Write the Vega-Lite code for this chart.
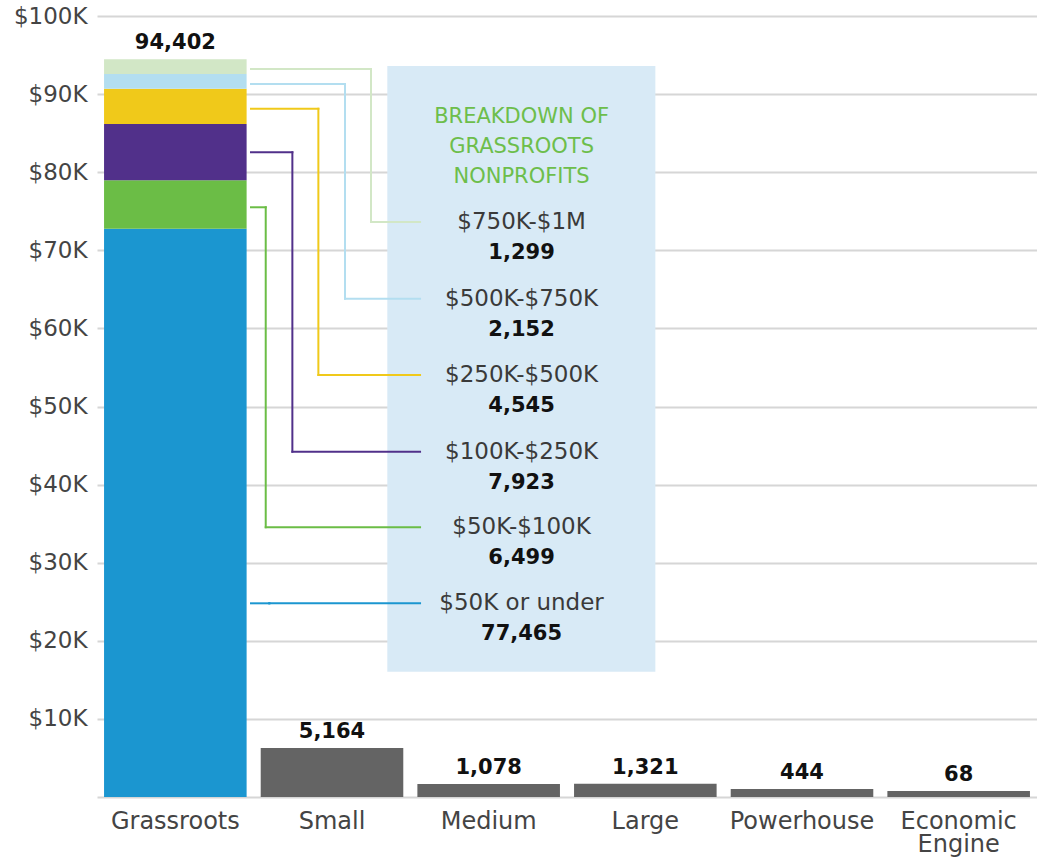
{
  "$schema": "https://vega.github.io/schema/vega-lite/v6.json",
  "width": 940,
  "height": 781,
  "autosize": {"type": "none"},
  "padding": {"left": 97, "top": 16, "right": 0, "bottom": 60},
  "background": "white",
  "config": {
    "view": {"stroke": null},
    "font": "DejaVu Sans",
    "text": {"font": "DejaVu Sans"}
  },
  "datasets": {
    "bars": [
      {"category": "Grassroots", "segment": "$50K or under", "tier": 1, "value": 72770, "total": "94,402"},
      {"category": "Grassroots", "segment": "$50K-$100K", "tier": 2, "value": 6190, "total": "94,402"},
      {"category": "Grassroots", "segment": "$100K-$250K", "tier": 3, "value": 7210, "total": "94,402"},
      {"category": "Grassroots", "segment": "$250K-$500K", "tier": 4, "value": 4520, "total": "94,402"},
      {"category": "Grassroots", "segment": "$500K-$750K", "tier": 5, "value": 1880, "total": "94,402"},
      {"category": "Grassroots", "segment": "$750K-$1M", "tier": 6, "value": 1890, "total": "94,402"},
      {"category": "Small", "segment": "Overall", "tier": 1, "value": 6270, "total": "5,164"},
      {"category": "Medium", "segment": "Overall", "tier": 1, "value": 1660, "total": "1,078"},
      {"category": "Large", "segment": "Overall", "tier": 1, "value": 1700, "total": "1,321"},
      {"category": "Powerhouse", "segment": "Overall", "tier": 1, "value": 1020, "total": "444"},
      {"category": "Economic Engine", "segment": "Overall", "tier": 1, "value": 770, "total": "68"}
    ],
    "breakdown": [
      {"segment": "$750K-$1M", "count": "1,299", "x_start": 0.483, "x_turn": 1.249, "x_end": 1.562, "y_from": 93210, "y_to": 73620},
      {"segment": "$500K-$750K", "count": "2,152", "x_start": 0.483, "x_turn": 1.083, "x_end": 1.562, "y_from": 91290, "y_to": 63800},
      {"segment": "$250K-$500K", "count": "4,545", "x_start": 0.483, "x_turn": 0.913, "x_end": 1.562, "y_from": 88130, "y_to": 54030},
      {"segment": "$100K-$250K", "count": "7,923", "x_start": 0.483, "x_turn": 0.747, "x_end": 1.562, "y_from": 82550, "y_to": 44210},
      {"segment": "$50K-$100K", "count": "6,499", "x_start": 0.483, "x_turn": 0.577, "x_end": 1.562, "y_from": 75510, "y_to": 34530},
      {"segment": "$50K or under", "count": "77,465", "x_start": 0.483, "x_turn": 0.6, "x_end": 1.562, "y_from": 24800, "y_to": 24800}
    ],
    "box": [
      {"left": 1.353, "right": 3.064, "top": 93600, "bottom": 16040}
    ]
  },
  "resolve": {"scale": {"x": "independent"}},
  "layer": [
    {
      "data": {"name": "bars"},
      "layer": [
        {
          "mark": {"type": "bar"},
          "encoding": {
            "x": {
              "field": "category",
              "type": "nominal",
              "sort": ["Grassroots", "Small", "Medium", "Large", "Powerhouse", "Economic Engine"],
              "scale": {"paddingInner": 0.09, "paddingOuter": 0.045},
              "axis": {
                "title": null,
                "domain": false,
                "ticks": false,
                "labelAngle": 0,
                "labelFont": "DejaVu Sans",
                "labelFontSize": 24,
                "labelColor": "#444444",
                "labelPadding": 12,
                "labelLineHeight": 23,
                "labelExpr": "split(datum.label, ' ')"
              }
            },
            "y": {
              "field": "value",
              "type": "quantitative",
              "stack": "zero",
              "scale": {"domain": [0, 100000], "nice": false},
              "axis": {
                "title": null,
                "values": [0, 10000, 20000, 30000, 40000, 50000, 60000, 70000, 80000, 90000, 100000],
                "labelExpr": "datum.value == 0 ? '' : '$' + datum.value / 1000 + 'K'",
                "domain": false,
                "ticks": false,
                "grid": true,
                "gridColor": "#d6d6d6",
                "gridWidth": 2,
                "labelFont": "DejaVu Sans",
                "labelFontSize": 23,
                "labelColor": "#444444",
                "labelPadding": 10
              }
            },
            "color": {
              "field": "segment",
              "type": "nominal",
              "legend": null,
              "scale": {
                "domain": ["$50K or under", "$50K-$100K", "$100K-$250K", "$250K-$500K", "$500K-$750K", "$750K-$1M", "Overall"],
                "range": ["#1b96d0", "#6bbd46", "#51308a", "#f0c91a", "#b3def0", "#d2e7c6", "#646464"]
              }
            },
            "order": {"field": "tier", "type": "quantitative"}
          }
        },
        {
          "transform": [
            {"aggregate": [{"op": "sum", "field": "value", "as": "top"}], "groupby": ["category", "total"]}
          ],
          "mark": {"type": "text", "baseline": "alphabetic", "dy": -10, "fontSize": 21, "fontWeight": "bold", "color": "#111111"},
          "encoding": {
            "x": {"field": "category", "type": "nominal", "sort": ["Grassroots", "Small", "Medium", "Large", "Powerhouse", "Economic Engine"]},
            "y": {"field": "top", "type": "quantitative", "title": null},
            "text": {"field": "total", "type": "nominal"}
          }
        }
      ]
    },
    {
      "data": {"name": "breakdown"},
      "layer": [
        {
          "data": {"name": "box"},
          "mark": {"type": "rect", "color": "#d8eaf6"},
          "encoding": {
            "x": {"field": "left", "type": "quantitative", "scale": {"domain": [-0.5, 5.5], "nice": false, "zero": false}, "axis": null},
            "x2": {"field": "right"},
            "y": {"field": "top", "type": "quantitative", "title": null},
            "y2": {"field": "bottom"}
          }
        },
        {
          "mark": {"type": "rule", "strokeWidth": 2, "strokeCap": "square"},
          "encoding": {
            "x": {"field": "x_start", "type": "quantitative", "axis": null},
            "x2": {"field": "x_turn"},
            "y": {"field": "y_from", "type": "quantitative", "title": null},
            "color": {"field": "segment", "type": "nominal", "legend": null}
          }
        },
        {
          "mark": {"type": "rule", "strokeWidth": 2, "strokeCap": "square"},
          "encoding": {
            "x": {"field": "x_turn", "type": "quantitative", "axis": null},
            "y": {"field": "y_from", "type": "quantitative", "title": null},
            "y2": {"field": "y_to"},
            "color": {"field": "segment", "type": "nominal", "legend": null}
          }
        },
        {
          "mark": {"type": "rule", "strokeWidth": 2, "strokeCap": "square"},
          "encoding": {
            "x": {"field": "x_turn", "type": "quantitative", "axis": null},
            "x2": {"field": "x_end"},
            "y": {"field": "y_to", "type": "quantitative", "title": null},
            "color": {"field": "segment", "type": "nominal", "legend": null}
          }
        },
        {
          "mark": {"type": "text", "baseline": "middle", "align": "center", "fontSize": 23, "color": "#3a3a3a"},
          "encoding": {
            "x": {"datum": 2.21, "type": "quantitative", "axis": null},
            "y": {"field": "y_to", "type": "quantitative", "title": null},
            "text": {"field": "segment", "type": "nominal"}
          }
        },
        {
          "mark": {"type": "text", "baseline": "middle", "align": "center", "dy": 31, "fontSize": 21, "fontWeight": "bold", "color": "#111111"},
          "encoding": {
            "x": {"datum": 2.21, "type": "quantitative", "axis": null},
            "y": {"field": "y_to", "type": "quantitative", "title": null},
            "text": {"field": "count", "type": "nominal"}
          }
        },
        {
          "data": {"name": "box"},
          "mark": {
            "type": "text",
            "text": ["BREAKDOWN OF", "GRASSROOTS", "NONPROFITS"],
            "baseline": "middle",
            "align": "center",
            "fontSize": 21,
            "lineHeight": 30,
            "color": "#6dbe4b"
          },
          "encoding": {
            "x": {"datum": 2.21, "type": "quantitative", "axis": null},
            "y": {"datum": 87110, "type": "quantitative", "title": null}
          }
        }
      ]
    }
  ]
}
